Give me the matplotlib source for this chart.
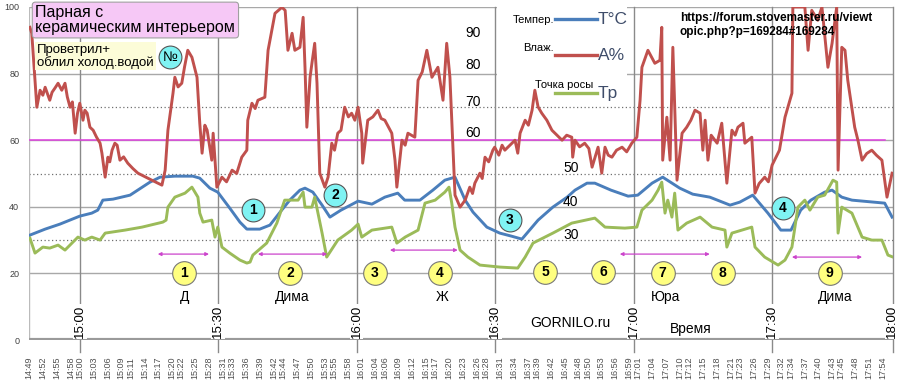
import matplotlib.pyplot as plt

plt.rcParams['font.family'] = ['Liberation Sans', 'DejaVu Sans']

# x = minutes after 14:49
tick_labels = ['14:49', '14:52', '14:55', '14:58', '15:00', '15:03', '15:06', '15:09', '15:11',
               '15:14', '15:17', '15:20', '15:22', '15:25', '15:28', '15:31', '15:33', '15:36',
               '15:39', '15:42', '15:44', '15:47', '15:50', '15:53', '15:55', '15:58', '16:01',
               '16:04', '16:06', '16:09', '16:12', '16:15', '16:17', '16:20', '16:23', '16:26',
               '16:28', '16:31', '16:34', '16:37', '16:39', '16:42', '16:45', '16:48', '16:50',
               '16:53', '16:56', '16:59', '17:01', '17:04', '17:07', '17:10', '17:12', '17:15',
               '17:18', '17:21', '17:23', '17:26', '17:29', '17:32', '17:34', '17:37', '17:40',
               '17:43', '17:45', '17:48', '17:51', '17:54']
major_labels = ['15:00', '15:30', '16:00', '16:30', '17:00', '17:30']

# температура, T°C
temp = [(0.2, 31.5), (3.5, 33.3), (6.7, 34.8), (11.0, 37.2), (13.6, 38.1), (14.9, 39.0),
        (16.0, 42.0), (18.2, 42.3), (21.9, 43.5), (26.2, 47.4), (28.4, 48.9), (31.6, 49.2),
        (35.5, 49.2), (37.0, 48.6), (39.2, 45.6), (40.9, 44.4), (43.5, 39.6), (45.7, 35.4),
        (47.2, 33.3), (50.0, 33.3), (52.2, 34.5), (54.4, 38.4), (56.5, 42.0), (58.7, 45.0),
        (59.8, 45.6), (61.5, 44.4), (63.5, 40.5), (65.2, 36.9), (67.6, 39.0), (71.3, 41.7),
        (74.3, 40.8), (77.1, 42.9), (79.9, 44.1), (81.4, 42.0), (84.7, 42.0), (87.5, 45.0),
        (90.1, 48.0), (92.3, 48.9), (94.5, 42.0), (96.2, 38.4), (99.2, 33.9), (102.0, 32.1),
        (104.5, 31.2), (106.8, 30.3), (110.3, 36.0), (113.5, 39.9), (116.6, 42.9), (118.3, 45.0),
        (120.9, 47.1), (122.6, 47.1), (126.1, 45.0), (129.8, 43.2), (131.9, 43.5), (135.0, 47.1),
        (137.3, 48.9), (141.0, 45.6), (143.8, 43.8), (147.5, 42.9), (151.9, 40.5), (154.0, 41.4),
        (156.8, 43.5), (160.1, 38.1), (162.9, 33.0), (165.1, 33.0), (167.2, 39.0), (169.4, 42.0),
        (172.4, 44.4), (174.0, 45.0), (176.1, 42.9), (178.3, 42.0), (185.4, 41.1), (187.0, 36.9)]

# влажность, A%
hum = [(0.2, 93.9), (0.6, 92.1), (1.2, 80.0), (1.7, 69.9), (2.4, 75.0), (3.0, 73.5), (3.5, 75.9),
       (4.5, 72.0), (5.0, 74.4), (5.6, 75.6), (6.3, 77.1), (7.1, 75.0), (7.8, 77.1), (8.3, 73.0),
       (8.9, 69.9), (9.4, 71.5), (10.0, 62.1), (10.5, 68.0), (11.0, 71.1), (11.7, 66.0),
       (12.1, 69.0), (12.6, 68.1), (13.2, 63.9), (13.9, 63.0), (14.6, 61.0), (15.4, 59.1),
       (15.8, 56.1), (16.5, 48.9), (17.1, 54.9), (17.5, 53.5), (18.0, 57.0), (18.6, 59.1),
       (19.1, 58.5), (19.7, 54.0), (20.5, 55.0), (21.4, 53.1), (22.5, 51.5), (23.6, 50.1),
       (26.6, 48.0), (28.8, 46.5), (29.5, 51.0), (30.1, 63.0), (30.6, 68.0), (31.2, 74.1),
       (31.6, 78.9), (32.3, 76.0), (33.1, 77.1), (33.7, 82.0), (34.4, 87.0), (35.3, 84.9),
       (36.4, 78.9), (37.0, 65.1), (37.5, 56.1), (38.1, 64.5), (38.6, 63.0), (39.6, 54.0),
       (39.9, 62.1), (40.7, 45.9), (41.8, 48.9), (42.8, 47.5), (44.0, 51.0), (45.0, 50.0),
       (46.1, 54.9), (47.2, 57.0), (47.4, 66.0), (48.3, 71.1), (49.0, 69.5), (49.6, 72.0),
       (51.1, 72.9), (51.8, 87.0), (53.3, 98.1), (54.8, 99.9), (55.5, 99.0), (56.1, 87.0),
       (57.0, 92.1), (57.6, 87.0), (58.7, 87.9), (59.4, 96.9), (59.8, 81.9), (60.2, 63.9),
       (60.9, 78.9), (61.3, 83.1), (61.9, 89.1), (62.4, 77.1), (63.0, 50.1), (64.1, 45.9),
       (64.8, 48.9), (65.6, 59.1), (66.2, 57.0), (66.9, 62.1), (67.6, 63.0), (68.4, 69.9),
       (69.2, 67.0), (69.9, 68.1), (70.6, 66.0), (71.3, 69.9), (72.1, 62.1), (72.3, 53.1),
       (73.4, 66.0), (74.5, 67.0), (75.6, 69.0), (76.3, 66.5), (77.1, 66.0), (78.6, 62.1),
       (79.3, 54.0), (79.7, 45.9), (80.8, 60.0), (81.5, 58.5), (82.1, 62.1), (83.6, 60.9),
       (84.3, 78.0), (85.2, 80.5), (86.2, 87.0), (87.3, 78.9), (88.6, 81.9), (89.7, 72.0),
       (90.5, 89.1), (91.2, 78.9), (91.8, 60.0), (92.3, 43.5), (93.4, 39.9), (94.5, 42.0),
       (95.5, 45.9), (96.1, 44.0), (96.6, 47.1), (97.7, 50.1), (98.2, 48.5), (98.8, 54.9),
       (99.6, 53.5), (100.5, 57.0), (100.9, 57.9), (101.8, 55.5), (102.5, 58.5), (103.1, 57.0),
       (104.2, 58.5), (105.3, 60.0), (105.9, 56.1), (106.4, 62.1), (107.5, 66.0), (108.2, 64.5),
       (109.0, 69.0), (109.6, 75.0), (110.3, 70.0), (111.1, 68.1), (112.2, 66.0), (113.3, 63.0),
       (114.4, 61.5), (115.5, 60.0), (116.5, 61.5), (117.6, 60.9), (117.8, 54.9), (118.3, 60.0),
       (119.3, 58.0), (120.4, 59.1), (121.3, 57.5), (122.0, 51.9), (123.3, 57.9), (124.1, 50.1),
       (124.8, 57.9), (125.5, 55.5), (126.3, 54.9), (127.3, 57.0), (128.5, 57.9), (129.5, 56.5),
       (130.6, 59.1), (131.7, 60.9), (132.4, 72.0), (132.8, 81.9), (134.1, 87.0), (135.6, 83.1),
       (136.7, 84.0), (137.1, 93.9), (137.3, 54.0), (138.2, 66.9), (138.9, 54.0), (139.5, 87.9),
       (140.4, 48.0), (141.5, 62.1), (142.5, 63.9), (143.4, 66.0), (144.3, 69.0), (145.4, 68.1),
       (146.0, 57.0), (146.5, 66.0), (147.1, 54.0), (147.8, 61.5), (148.6, 60.0), (149.1, 59.1),
       (150.1, 65.1), (151.2, 47.1), (152.3, 63.0), (153.0, 61.5), (153.6, 63.9), (154.7, 65.1),
       (155.1, 59.1), (156.6, 60.9), (157.3, 44.1), (158.2, 47.0), (159.4, 48.9), (160.2, 47.5),
       (161.0, 52.5), (162.6, 57.0), (163.8, 66.9), (165.3, 74.1), (165.5, 100.0), (168.1, 100.0),
       (168.8, 87.0), (169.6, 99.0), (170.9, 96.0), (171.8, 100.0), (173.1, 81.9), (174.0, 89.1),
       (175.0, 100.0), (175.3, 51.0), (176.1, 87.9), (176.8, 87.0), (177.4, 78.0), (178.9, 63.9),
       (179.6, 60.0), (180.5, 54.0), (181.5, 56.0), (182.6, 57.0), (183.6, 55.5), (184.8, 54.0),
       (185.9, 42.9), (187.0, 50.1)]

# точка росы, Tp
dew = [(0.2, 30.6), (1.3, 26.1), (3.0, 27.9), (4.5, 27.6), (6.3, 28.5), (7.8, 27.0), (10.6, 30.9),
       (12.1, 30.0), (13.6, 30.9), (15.4, 30.0), (16.5, 32.1), (20.8, 33.0), (24.5, 33.9),
       (29.0, 35.4), (29.7, 36.0), (30.1, 39.9), (31.6, 42.9), (33.8, 44.1), (35.3, 45.9),
       (36.6, 42.9), (37.0, 38.1), (37.7, 35.4), (39.6, 36.0), (40.3, 30.9), (40.9, 33.9),
       (41.8, 27.9), (43.5, 26.1), (45.7, 24.0), (47.2, 23.1), (47.9, 23.4), (48.5, 25.5),
       (51.5, 29.1), (52.6, 32.1), (53.7, 35.1), (55.4, 42.0), (58.3, 42.0), (59.4, 44.4),
       (59.8, 39.9), (61.3, 39.9), (61.9, 42.9), (63.5, 32.1), (64.5, 24.9), (66.9, 30.0),
       (69.9, 33.0), (71.3, 34.8), (72.1, 30.9), (74.3, 33.0), (78.6, 33.9), (79.3, 30.9),
       (79.7, 29.1), (81.5, 30.9), (84.3, 33.0), (85.8, 41.1), (88.0, 42.0), (90.1, 44.4),
       (91.0, 45.9), (91.6, 41.1), (92.3, 33.9), (93.4, 27.0), (95.1, 24.9), (97.7, 22.5),
       (102.0, 21.9), (105.9, 21.6), (107.5, 24.9), (109.2, 29.1), (113.5, 32.1), (117.6, 35.1),
       (122.6, 36.6), (124.8, 33.9), (129.1, 33.6), (131.7, 33.9), (132.8, 39.0), (135.0, 42.0),
       (136.3, 45.0), (137.1, 47.4), (137.8, 38.1), (138.4, 42.0), (139.3, 36.9), (139.9, 44.1),
       (140.6, 33.0), (142.5, 35.1), (145.4, 36.9), (148.0, 33.9), (150.8, 33.0), (151.2, 27.9),
       (152.3, 32.1), (156.6, 33.9), (157.3, 27.9), (159.4, 24.9), (162.3, 22.5), (163.8, 24.0),
       (165.3, 27.9), (166.6, 39.9), (168.1, 42.0), (169.2, 39.0), (170.9, 42.9), (172.4, 43.5),
       (174.2, 48.0), (175.0, 47.4), (175.3, 32.1), (176.1, 39.9), (178.3, 38.1), (180.5, 30.9),
       (182.6, 30.0), (184.8, 30.0), (186.1, 25.5), (187.2, 24.9)]

# events: cyan = step number, yellow = who poured
cyan_marks = ['1', '2', '3', '4']
yellow_marks = ['1', '2', '3', '4', '5', '6', '7', '8', '9']
names = ['Д', 'Дима', 'Ж', 'Юра', 'Дима']


def tmin(s):
    h, m = s.split(':')
    return (int(h) - 14) * 60 + int(m) - 49


fig = plt.figure(figsize=(9, 3.89), dpi=100)
ax = fig.add_axes([29 / 900, 1 - 340 / 389, 864 / 900, 333 / 389])
ax.set_xlim(0, 187.2)
ax.set_ylim(0, 100)
for s in ax.spines.values():
    s.set_visible(False)

# grid
for y in (20, 40, 60, 80, 100):
    ax.axhline(y, color='#a8a8a8', lw=1, zorder=1)
for y in (30, 50, 70):
    ax.axhline(y, color='#707070', lw=0.9, ls=(0, (1, 2)), zorder=1)
ax.axvline(0, color='#bbbbbb', lw=1, zorder=1)
ax.axhline(0, color='#9a9a9a', lw=3, zorder=2)
for lab in major_labels:
    t = tmin(lab)
    ax.axvline(t, ymin=-0.035, color='#8a8a8a', lw=1, clip_on=False, zorder=1)
    ax.text(t, 5.5, lab, rotation=90, ha='center', va='center', fontsize=9.5,
            bbox=dict(fc='white', ec='none', pad=0.6), zorder=3)
ax.axvline(187.2, ymin=-0.035, color='#8a8a8a', lw=1, clip_on=False, zorder=1)
ax.text(187.0, 5.5, '18:00', rotation=90, ha='center', va='center', fontsize=9.5,
        bbox=dict(fc='white', ec='none', pad=0.6), zorder=3)

ax.plot([0, 185.4], [60, 60], color='#e040e0', lw=1.1, zorder=2)

# legend background
ax.add_patch(plt.Rectangle((101.4, 72), 28.1, 28, fc='white', ec='none', zorder=1.5))

ax.set_yticks([0, 20, 40, 60, 80, 100])
ax.tick_params(axis='y', length=0, labelsize=6.5, labelcolor='#404040', pad=7)
ax.set_xticks([tmin(s) for s in tick_labels])
ax.set_xticklabels(tick_labels, rotation=90, fontsize=6.5, color='#505050')
ax.tick_params(axis='x', length=0, pad=12)

blue, red, green = '#4a7ebb', '#c0504d', '#9bbb59'
for data, col in ((temp, blue), (hum, red), (dew, green)):
    xs, ys = zip(*data)
    ax.plot(xs, ys, color=col, lw=2.1, zorder=4, solid_joinstyle='round')

# legend (manual)
leg_rows = [('Темпер.', 'T°C', blue, 96.3, 96.0), ('Влаж.', 'A%', red, 85.5, 87.6),
            ('Точка росы', 'Tp', green, 74.1, 76.5)]
for name, sym, col, ly, ty in leg_rows:
    ax.plot([113.9, 123.0], [ly, ly], color=col, lw=2.4, zorder=5)
    ax.text(123.3, ly, sym, fontsize=12.5, color='#3f4d6a', va='center', ha='left', zorder=5)
    ax.text(122.2 if name == 'Точка росы' else 113.7, ty, name, fontsize=8, va='center',
            ha='right', zorder=5)

# secondary scale numbers written into the chart
for lab, x, y in (('90', 94.5, 92.1), ('80', 94.5, 82.5), ('70', 94.5, 71.4), ('60', 94.5, 62.1),
                  ('50', 115.7, 51.6), ('40', 115.7, 41.4), ('30', 115.7, 31.5)):
    ax.text(x, y, lab, fontsize=10, va='center', ha='left', zorder=6)

# title and notes
ax.text(1.4, 100.5, 'Парная с\nкерамическим интерьером', fontsize=11.5, va='top', ha='left',
        linespacing=0.95, zorder=7,
        bbox=dict(boxstyle='round,pad=0.2', fc='#f6c8f6', ec='#a0a0a0', lw=0.8))
ax.text(1.8, 85.2, 'Проветрил+\nоблил холод.водой', fontsize=9.5, va='center', ha='left',
        linespacing=0.95, zorder=7, bbox=dict(boxstyle='square,pad=0.15', fc='#fcfcd8', ec='none'))
ax.text(141.0, 98.6, 'https://forum.stovemaster.ru/viewt\nopic.php?p=169284#169284',
        fontsize=8.5, fontweight='bold', va='top', ha='left', linespacing=1.25, zorder=7)
ax.text(117.4, 5.1, 'GORNILO.ru', fontsize=10, ha='center', va='center', zorder=7)
ax.text(143.4, 3.3, 'Время', fontsize=10, ha='center', va='center', zorder=7)

# circles
cyan_pos = [(48.5, 39.0), (66.3, 43.5), (104.2, 36.0), (163.3, 39.6)]
ax.scatter([30.5], [85.0], s=270, color='#7ff3f3', edgecolor='#555555', lw=0.8, zorder=8)
ax.text(30.5, 85.0, '№', fontsize=10, ha='center', va='center', zorder=9)
for lab, (x, y) in zip(cyan_marks, cyan_pos):
    ax.scatter([x], [y], s=270, color='#7ff3f3', edgecolor='#555555', lw=0.8, zorder=8)
    ax.text(x, y, lab, fontsize=10, fontweight='bold', ha='center', va='center', zorder=9)

yellow_pos = [(33.6, 20.1), (56.6, 20.1), (74.9, 20.1), (89.0, 20.1), (111.8, 20.4),
              (124.4, 20.4), (137.3, 20.1), (150.3, 20.1), (173.5, 20.1)]
for lab, (x, y) in zip(yellow_marks, yellow_pos):
    ax.scatter([x], [y], s=290, color='#ffff80', edgecolor='#777777', lw=0.8, zorder=8)
    ax.text(x, y, lab, fontsize=10, fontweight='bold', ha='center', va='center', zorder=9)

for lab, x in zip(names, [33.8, 57.0, 89.5, 138.0, 174.6]):
    ax.text(x, 12.9, lab, fontsize=10, ha='center', va='center', zorder=7)

# periods
for x0, x1, y in ((27.9, 39.0, 25.8), (49.6, 64.6, 25.8), (78.2, 92.9, 27.0),
                  (128.0, 147.5, 25.8), (165.3, 180.5, 24.9)):
    ax.annotate('', xy=(x1, y), xytext=(x0, y), zorder=7,
                arrowprops=dict(arrowstyle='<|-|>', color='#cc44cc', lw=0.9,
                                mutation_scale=5, shrinkA=0, shrinkB=0))

fig.savefig('out.png', dpi=100)
